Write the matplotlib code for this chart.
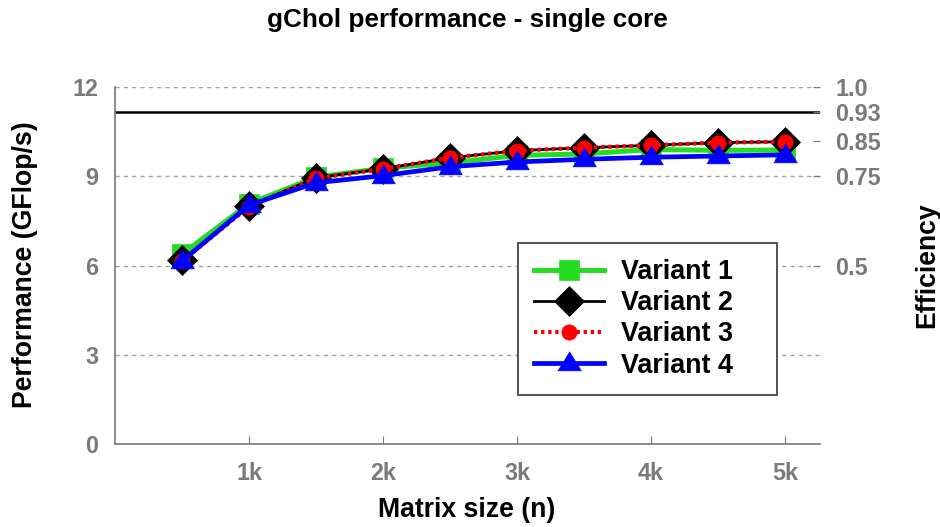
import matplotlib
matplotlib.use("Agg")
import matplotlib.pyplot as plt

plt.rcParams['font.family'] = ['Liberation Sans', 'DejaVu Sans']
plt.rcParams['font.weight'] = 'bold'

# ---- data ----
matrix_size = [500, 1000, 1500, 2000, 2500, 3000, 3500, 4000, 4500, 5000]
variant1 = [6.38, 8.08, 8.97, 9.27, 9.45, 9.70, 9.75, 9.90, 9.87, 9.88]
variant2 = [6.17, 8.00, 8.95, 9.25, 9.62, 9.86, 9.96, 10.04, 10.13, 10.16]
variant3 = [6.15, 7.98, 8.93, 9.25, 9.62, 9.86, 9.96, 10.04, 10.13, 10.16]
variant4 = [6.15, 8.03, 8.78, 9.02, 9.32, 9.48, 9.57, 9.64, 9.68, 9.72]
series_names = ["Variant 1", "Variant 2", "Variant 3", "Variant 4"]

peak = 12.0
eff_line = 0.93
x_ticks = [1000, 2000, 3000, 4000, 5000]
x_ticklabels = ["1k", "2k", "3k", "4k", "5k"]
y_ticks = [0, 3, 6, 9, 12]
eff_ticks = [0.5, 0.75, 0.85, 0.93, 1.0]
eff_ticklabels = ["0.5", "0.75", "0.85", "0.93", "1.0"]

GRAY = "#7a7a7a"
TICK_FS = 16.8
LABEL_FS = 19.2

fig = plt.figure(figsize=(9.4, 5.27), dpi=100)
ax = fig.add_axes([115 / 940, 1 - 444 / 527, 705 / 940, 357 / 527])

ax.set_xlim(0, 5260)
ax.set_ylim(0, peak)

# grid
for yv in y_ticks[1:]:
    ax.axhline(yv, color="#a0a0a0", lw=1.0, ls=(0, (3, 3)), zorder=1)
ax.axhline(peak * eff_line, color="black", lw=1.8, zorder=2)

tri = [(-1, -0.62), (1, -0.62), (0, 1.0)]

ax.plot(matrix_size, variant1, color="#22dd22", lw=3.6, marker="s", ms=14,
        mec="#22dd22", mfc="#22dd22", mew=0.5, label=series_names[0], zorder=3)
ax.plot(matrix_size, variant2, color="black", lw=2.0, marker="D", ms=15.5,
        mec="black", mfc="black", mew=0.5, label=series_names[1], zorder=4)
ax.plot(matrix_size, variant3, color="#ff0000", lw=3.0, ls=(0, (0.8, 0.9)),
        marker="o", ms=11, mec="#ff0000", mfc="#ff0000", mew=0.5,
        label=series_names[2], zorder=5)
ax.plot(matrix_size, variant4, color="#0000ff", lw=3.4, marker=tri, ms=17,
        mec="#0000ff", mfc="#0000ff", mew=0.5, label=series_names[3], zorder=6)

for s in ["top", "right"]:
    ax.spines[s].set_visible(False)
for s in ["left", "bottom"]:
    ax.spines[s].set_color(GRAY)
    ax.spines[s].set_linewidth(1.2)

ax.set_xticks(x_ticks)
ax.set_xticklabels(x_ticklabels)
ax.set_yticks(y_ticks)
ax.tick_params(axis="x", direction="in", length=6, color=GRAY, labelcolor=GRAY,
               labelsize=TICK_FS, pad=13)
ax.tick_params(axis="y", direction="in", length=0, color=GRAY, labelcolor=GRAY,
               labelsize=TICK_FS, pad=12)
for lab in ax.get_xticklabels() + ax.get_yticklabels():
    lab.set_fontweight("bold")

ax2 = ax.twinx()
ax2.set_ylim(0, 1)
ax2.set_yticks(eff_ticks)
ax2.set_yticklabels(eff_ticklabels)
ax2.tick_params(axis="y", direction="in", length=5, color=GRAY, labelcolor=GRAY,
                labelsize=TICK_FS, pad=11)
for lab in ax2.get_yticklabels():
    lab.set_fontweight("bold")
for s in ax2.spines.values():
    s.set_visible(False)

leg = ax.legend(loc="upper left", bbox_to_anchor=(403 / 705, 201 / 357, 259 / 705, 0.0),
                mode="expand", fontsize=19.4, handlelength=2.6, handletextpad=0.63,
                borderpad=0.6, labelspacing=0.19, fancybox=False, framealpha=1,
                edgecolor="#444444", borderaxespad=0)
leg.get_frame().set_linewidth(1.3)
for t in leg.get_texts():
    t.set_fontweight("bold")
leg.set_zorder(10)

fig.text(467 / 940, 1 - 20 / 527, "gChol performance - single core", ha="center",
         va="center", fontsize=18.8, fontweight="bold")
fig.text(467 / 940, 1 - 510 / 527, "Matrix size (n)", ha="center", va="center",
         fontsize=LABEL_FS, fontweight="bold")
fig.text(25 / 940, 1 - 265 / 527, "Performance (GFlop/s)", ha="center", va="center",
         rotation=90, fontsize=LABEL_FS, fontweight="bold")
fig.text(927 / 940, 1 - 265 / 527, "Efficiency", ha="center", va="center",
         rotation=90, fontsize=LABEL_FS, fontweight="bold")

fig.savefig("out.png", dpi=100)
